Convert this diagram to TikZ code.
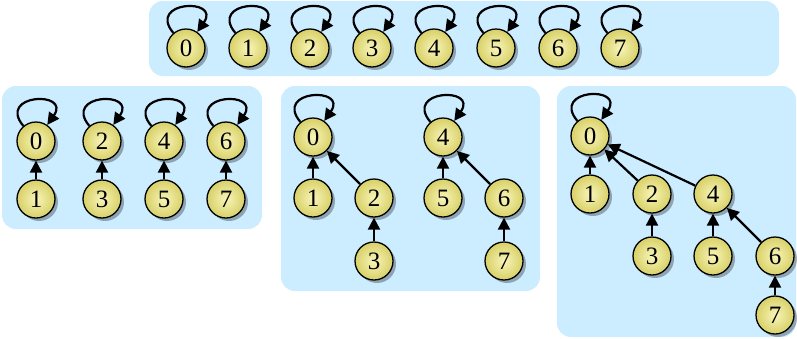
\documentclass[tikz,border=0pt]{standalone}
\usepackage{fontspec}
\setmainfont{Liberation Serif}
\usepackage{tikz}
\usetikzlibrary{arrows.meta,shadows,positioning}
\definecolor{panelblue}{RGB}{204,236,255}
\definecolor{nodeyellow}{RGB}{248,245,185}
\definecolor{nodeolive}{RGB}{216,208,104}

\begin{document}
\begin{tikzpicture} [
  x = 1pt, y = 1pt,
  panel/.style = { fill = panelblue, rounded corners = 14pt },
  vertex/.style = { circle, draw, line width = 1.3pt, inner sep = 0,
    minimum size = 38pt, shading = radial, inner color = nodeyellow,
    outer color = nodeolive, font = \fontsize{25}{26}\selectfont,
    drop shadow={shadow xshift=3pt,shadow yshift=-3pt,fill=black,opacity=0.3} },
  link/.style = { line width = 2.2pt, -{Triangle[length=12pt,width=12pt]} },
  self/.style = { link, out = 130, in = 55, looseness = 4.5 }
  ]
  \useasboundingbox (0,0) rectangle (797,-338);

  % backgrounds
  \fill[panel] (149,-1) rectangle (779,-76);
  \fill[panel] (2,-86) rectangle (262,-229);
  \fill[panel] (281,-86) rectangle (540,-291);
  \fill[panel] (557,-86) rectangle (796,-337);

  % every vertex its own root
  \foreach \i in {0,...,7} {
    \node[vertex] (a\i) at (186+62*\i,-48) {\i};
    \draw[self] (a\i) to (a\i);
  }

  % pairs
  \node[vertex] (b0) at (36,-141) {0};
  \node[vertex] (b1) at (36,-199) {1};
  \node[vertex] (b2) at (102,-141) {2};
  \node[vertex] (b3) at (102,-199) {3};
  \node[vertex] (b4) at (164,-141) {4};
  \node[vertex] (b5) at (164,-199) {5};
  \node[vertex] (b6) at (226,-141) {6};
  \node[vertex] (b7) at (226,-199) {7};
  \draw[self] (b0) to (b0);
  \draw[self] (b2) to (b2);
  \draw[self] (b4) to (b4);
  \draw[self] (b6) to (b6);
  \draw[link] (b1) -- (b0);
  \draw[link] (b3) -- (b2);
  \draw[link] (b5) -- (b4);
  \draw[link] (b7) -- (b6);

  % groups of four
  \node[vertex] (c0) at (313,-137) {0};
  \node[vertex] (c1) at (313,-198) {1};
  \node[vertex] (c2) at (374,-198) {2};
  \node[vertex] (c3) at (374,-261) {3};
  \node[vertex] (c4) at (443,-137) {4};
  \node[vertex] (c5) at (443,-198) {5};
  \node[vertex] (c6) at (504,-198) {6};
  \node[vertex] (c7) at (504,-261) {7};
  \draw[self] (c0) to (c0);
  \draw[self] (c4) to (c4);
  \draw[link] (c1) -- (c0);
  \draw[link] (c2) -- (c0);
  \draw[link] (c3) -- (c2);
  \draw[link] (c5) -- (c4);
  \draw[link] (c6) -- (c4);
  \draw[link] (c7) -- (c6);

  % one tree
  \node[vertex] (d0) at (590,-136) {0};
  \node[vertex] (d1) at (590,-194) {1};
  \node[vertex] (d2) at (652,-194) {2};
  \node[vertex] (d3) at (652,-256) {3};
  \node[vertex] (d4) at (713,-194) {4};
  \node[vertex] (d5) at (713,-256) {5};
  \node[vertex] (d6) at (775,-256) {6};
  \node[vertex] (d7) at (775,-315) {7};
  \draw[self] (d0) to (d0);
  \draw[link] (d1) -- (d0);
  \draw[link] (d2) -- (d0);
  \draw[link] (d4) -- (d0);
  \draw[link] (d3) -- (d2);
  \draw[link] (d5) -- (d4);
  \draw[link] (d6) -- (d4);
  \draw[link] (d7) -- (d6);
\end{tikzpicture}
\end{document}
